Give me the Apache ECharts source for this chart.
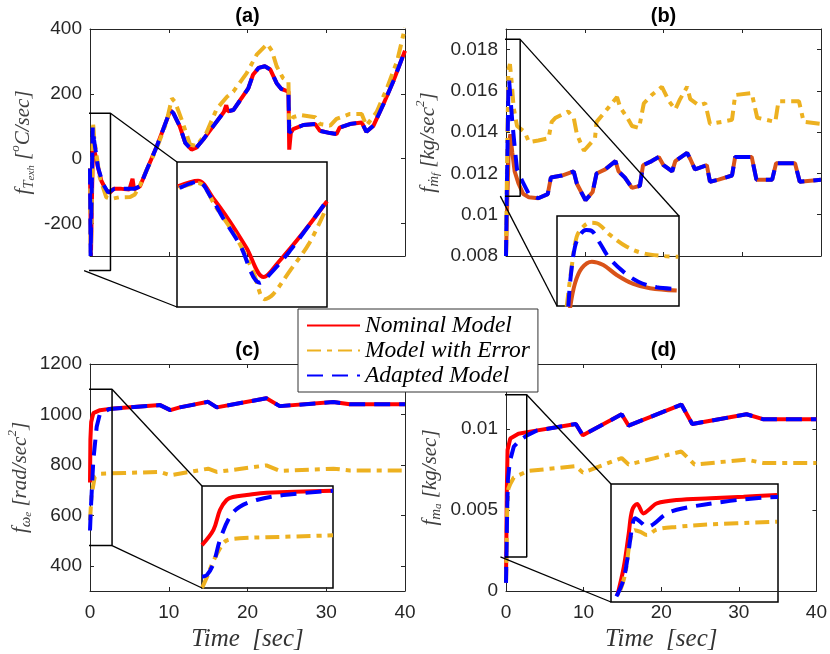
<!DOCTYPE html>
<html><head><meta charset="utf-8">
<script src="https://cdn.jsdelivr.net/npm/echarts@6/dist/echarts.min.js"></script>
<style>html,body{margin:0;padding:0;background:#fff}#c{width:830px;height:654px}</style>
</head><body><div id="c"></div>
<script>
// ---------- data ----------
const xRange = [0, 40];
const xTicks = [0, 10, 20, 30, 40];

const aYRange = [-300, 400];
const aYTicks = [-200, 0, 200, 400];
const aNominal = [[0,-30],[0.12,-300],[0.38,60],[0.6,20],[1.0,-25],[1.44,-68],[2.0,-95],[2.5,-105],[3.0,-93],[4.0,-93],[5.0,-95],[5.4,-62],[5.6,-95],[6.35,-85],[7.2,-35],[8.5,39],[9.3,91],[10.2,149],[10.6,140],[11.4,100],[12.1,49],[12.9,28],[13.5,34],[14.4,60],[15.7,102],[17.0,144],[17.3,165],[17.5,146],[18.2,150],[19.0,178],[20.1,217],[20.7,259],[21.4,280],[22.2,285],[22.9,275],[23.7,233],[24.3,215],[25.2,207],[25.3,28],[25.5,80],[25.8,91],[27.1,104],[28.6,107],[29.2,86],[30.5,79],[31.3,76],[31.7,96],[33.0,107],[34.5,112],[35.1,83],[36.0,102],[37.2,165],[38.5,238],[40,333]];
const aError = [[0,-30],[0.1,-290],[0.2,-200],[0.38,112],[0.55,60],[1.23,-57],[2.07,-119],[2.7,-124],[3.7,-119],[5.1,-118],[5.7,-110],[6.35,-82],[7.2,-35],[8.5,34],[9.7,112],[10.4,186],[10.8,175],[11.6,123],[12.7,44],[13.5,39],[14.8,81],[16.1,154],[17.4,191],[18.2,207],[19.9,264],[21.2,322],[22.5,354],[23.1,333],[23.7,285],[24.5,249],[25.2,238],[25.3,102],[25.8,128],[26.7,135],[28.6,128],[29.2,107],[30.5,102],[31.3,123],[33.0,138],[34.5,138],[35.1,102],[36.4,144],[37.7,217],[39.0,301],[40,404]];
const aAdapted = [[0,-30],[0.08,-300],[0.2,-300],[0.35,96],[0.5,60],[1.02,-27],[1.65,-78],[2.3,-104],[3.1,-93],[4.0,-92],[5.0,-93],[5.6,-93],[6.35,-85],[7.2,-35],[8.5,39],[9.3,91],[10.2,150],[10.6,140],[11.4,100],[12.1,49],[12.9,28],[13.5,34],[14.4,60],[15.7,102],[17.0,144],[18.2,150],[19.0,178],[20.1,217],[20.7,259],[21.4,280],[22.2,285],[22.9,275],[23.7,233],[24.3,215],[25.2,207],[25.3,80],[25.8,91],[27.1,104],[28.6,107],[29.2,86],[30.5,79],[31.3,76],[31.7,96],[33.0,107],[34.5,112],[35.1,83],[36.0,102],[37.2,165],[38.5,238],[40,333]];
const aZoomX = [-0.75, 2.6];
const aZoomY = [-345, 140];
const aInNominal = [[-0.73,58.6],[-0.28,77.6],[0.054,19.9],[0.427,-58.2],[0.80,-146.9],[1.186,-245],[1.505,-197],[2.064,-96.9],[2.6,8.6]];
const aInError = [[-0.71,54],[-0.28,70],[0.13,-13.5],[0.576,-113.5],[0.947,-225],[1.21,-319],[1.394,-302.7],[1.767,-225],[2.21,-130],[2.586,-13.5]];
const aInAdapted = [[-0.69,53.3],[-0.28,74.3],[0.018,19.9],[0.277,-46.8],[0.65,-135.9],[1.10,-263.7],[1.32,-236],[1.767,-158.2],[2.586,8.6]];

const bYRange = [0.008, 0.019];
const bYTicks = [0.008, 0.01, 0.012, 0.014, 0.016, 0.018];
const bNominal = [[0,0.008],[0.15,0.0105],[0.35,0.0133],[0.55,0.0139],[0.8,0.0130],[1.1,0.0121],[1.6,0.0115],[2.2,0.0110],[2.9,0.01085],[4.1,0.0108],[5.3,0.0110],[5.7,0.0118],[7.1,0.0119],[8.6,0.0121],[9.0,0.0115],[10.1,0.0107],[11.0,0.0111],[11.5,0.0120],[12.6,0.0122],[13.9,0.0126],[14.3,0.0121],[15.1,0.0118],[16.0,0.0113],[17.0,0.0114],[17.4,0.0124],[18.5,0.0126],[19.4,0.0128],[20.0,0.0124],[21.1,0.0121],[21.5,0.0126],[23.0,0.0130],[23.4,0.0127],[24.0,0.0122],[25.5,0.0124],[25.9,0.0116],[27.0,0.0117],[28.7,0.0119],[29.1,0.0128],[31.2,0.0128],[31.8,0.0117],[33.8,0.0117],[34.3,0.0125],[36.7,0.0125],[37.3,0.0116],[40,0.0117]];
const bError = [[0,0.008],[0.12,0.012],[0.3,0.0170],[0.5,0.0173],[0.7,0.0165],[0.97,0.0152],[1.4,0.0143],[2.4,0.0140],[2.9,0.01352],[4.1,0.0136],[5.4,0.0137],[5.8,0.0145],[6.3,0.0147],[7.9,0.0150],[8.6,0.0147],[9.0,0.0139],[9.9,0.0131],[11.3,0.0137],[11.5,0.0145],[12.6,0.0150],[14.1,0.0157],[14.5,0.0152],[15.4,0.0147],[16.0,0.0143],[16.9,0.0142],[17.5,0.0154],[18.5,0.0158],[19.8,0.0162],[20.7,0.0155],[21.5,0.0151],[22.1,0.0156],[23.0,0.0162],[23.4,0.0156],[24.5,0.0153],[25.3,0.0154],[25.9,0.0144],[27.4,0.0145],[28.7,0.0146],[29.1,0.0158],[31.2,0.0159],[31.9,0.0147],[34.2,0.0145],[34.6,0.0155],[37.2,0.0155],[37.8,0.0145],[40,0.0144]];
const bAdapted = [[0,0.008],[0.12,0.0115],[0.3,0.0160],[0.4,0.0165],[0.6,0.0155],[0.8,0.0145],[1.1,0.0133],[1.4,0.0122],[2.1,0.0116],[2.9,0.0110],[4.1,0.0108],[5.3,0.0110],[5.7,0.0118],[7.1,0.0119],[8.6,0.0121],[9.0,0.0115],[10.1,0.0107],[11.0,0.0111],[11.5,0.0120],[12.6,0.0122],[13.9,0.0126],[14.3,0.0121],[15.1,0.0118],[16.0,0.0113],[17.0,0.0114],[17.4,0.0124],[18.5,0.0126],[19.4,0.0128],[20.0,0.0124],[21.1,0.0121],[21.5,0.0126],[23.0,0.0130],[23.4,0.0127],[24.0,0.0122],[25.5,0.0124],[25.9,0.0116],[27.0,0.0117],[28.7,0.0119],[29.1,0.0128],[31.2,0.0128],[31.8,0.0117],[33.8,0.0117],[34.3,0.0125],[36.7,0.0125],[37.3,0.0116],[40,0.0117]];
const bZoomX = [-0.72, 1.8];
const bZoomY = [0.0109, 0.0185];
const bInNominal = [[-0.451,0.01071],[-0.348,0.01282],[-0.21,0.01409],[0.0,0.01464],[0.236,0.01436],[0.513,0.01352],[0.856,0.01276],[1.20,0.01240],[1.753,0.01220]];
const bInError = [[-0.52,0.01084],[-0.416,0.01422],[-0.313,0.01675],[-0.177,0.01760],[-0.038,0.01793],[0.100,0.01788],[0.375,0.01690],[0.72,0.01591],[1.063,0.01535],[1.476,0.01512],[1.786,0.01506]];
const bInAdapted = [[-0.487,0.01084],[-0.437,0.01338],[-0.348,0.01591],[-0.245,0.01690],[-0.12,0.01732],[0.003,0.01723],[0.168,0.01620],[0.34,0.01506],[0.65,0.01380],[0.96,0.01295],[1.34,0.01248],[1.753,0.01234]];

const cYRange = [300, 1200];
const cYTicks = [400, 600, 800, 1000, 1200];
const cNominal = [[0,730],[0.05,900],[0.15,970],[0.42,1005],[1.27,1017],[2.96,1024],[8.9,1037],[10.2,1017],[11.4,1028],[15.0,1050],[16.1,1028],[22.4,1064],[24.1,1033],[30.9,1049],[33.0,1040],[40,1040]];
const cError = [[0,580],[0.2,680],[0.6,752],[1.27,765],[4.4,768],[8.9,772],[10.2,759],[15.0,785],[16.1,772],[22.4,798],[24.1,776],[30.9,785],[33.0,778],[40,778]];
const cAdapted = [[0,540],[0.1,620],[0.42,818],[0.85,951],[1.27,1004],[2.5,1022],[8.9,1037],[10.2,1017],[11.4,1028],[15.0,1050],[16.1,1028],[22.4,1064],[24.1,1033],[30.9,1049],[33.0,1040],[40,1040]];
const cZoomX = [-0.63, 2.8];
const cZoomY = [480, 1100];
const cInNominal = [[-0.63,741],[-0.33,833],[-0.16,954],[0.014,1015],[0.18,1033],[0.54,1045],[1.06,1059],[2.8,1071]];
const cInError = [[-0.63,480],[-0.5,547],[-0.36,629],[-0.16,721],[0.01,768],[0.36,782],[1.06,788],[2.8,800]];
const cInAdapted = [[-0.63,549],[-0.5,559],[-0.33,629],[-0.16,772],[0.10,913],[0.36,974],[0.80,1015],[1.5,1045],[2.8,1071]];

const dYRange = [0, 0.014];
const dYTicks = [0, 0.005, 0.01];
const dNominal = [[0,0.0005],[0.1,0.006],[0.2,0.0087],[0.55,0.0094],[1.6,0.0097],[2.7,0.0098],[9.0,0.0103],[9.9,0.0096],[14.9,0.0109],[15.8,0.0102],[22.6,0.0115],[24.0,0.0103],[31.0,0.0109],[33.1,0.0106],[40,0.0106]];
const dError = [[0,0.0005],[0.15,0.005],[0.3,0.0063],[0.55,0.0066],[1.0,0.0070],[2.8,0.0074],[9.0,0.0077],[9.9,0.0073],[14.9,0.0082],[15.8,0.0078],[22.6,0.0086],[24.3,0.0078],[31.0,0.0081],[33.1,0.0079],[40,0.0079]];
const dAdapted = [[0,0.0005],[0.15,0.005],[0.25,0.0069],[0.5,0.0080],[1.0,0.0089],[1.8,0.0093],[2.7,0.0096],[4.0,0.0099],[9.0,0.0103],[9.9,0.0096],[14.9,0.0109],[15.8,0.0102],[22.6,0.0115],[24.0,0.0103],[31.0,0.0109],[33.1,0.0106],[40,0.0106]];
const dZoomX = [-0.72, 2.67];
const dZoomY = [0.0021, 0.0121];
const dInNominal = [[-0.59,0.00267],[-0.46,0.00507],[-0.36,0.00791],[-0.29,0.00989],[-0.19,0.0104],[-0.06,0.00961],[0.08,0.01004],[0.21,0.01046],[0.62,0.01074],[1.3,0.01089],[1.97,0.01102],[2.65,0.01117]];
const dInError = [[-0.53,0.0031],[-0.43,0.00451],[-0.33,0.00734],[-0.24,0.00819],[-0.12,0.00805],[0.01,0.00777],[0.21,0.00825],[0.62,0.00847],[1.3,0.00868],[2.65,0.0089]];
const dInAdapted = [[-0.61,0.00258],[-0.47,0.00394],[-0.37,0.00621],[-0.30,0.00819],[-0.23,0.00919],[-0.09,0.00876],[0.0,0.00847],[0.42,0.00961],[0.75,0.01004],[1.57,0.0106],[2.35,0.01094],[2.67,0.0110]];

const seriesNames = ['Nominal Model', 'Model with Error', 'Adapted Model'];
const panelTitles = ['(a)', '(b)', '(c)', '(d)'];

// ---------- layout & style ----------
const AX = '#262626';
const RED = '#FF0000', ORANGE = '#D95319', YEL = '#EDB120', BLUE = '#0000FF';
const serifIt = {fontFamily: 'Liberation Serif', fontStyle: 'italic'};
const richName = {
  f: Object.assign({fontSize: 21, lineHeight: 28}, serifIt),
  b: Object.assign({fontSize: 21, lineHeight: 28}, serifIt),
  s: Object.assign({fontSize: 15, lineHeight: 15, verticalAlign: 'bottom'}, serifIt),
  ss: Object.assign({fontSize: 11, lineHeight: 9, verticalAlign: 'bottom'}, serifIt),
  sup: Object.assign({fontSize: 13, lineHeight: 13, verticalAlign: 'top'}, serifIt)
};

const panels = [
  {grid: {left: 90, top: 29}, yr: aYRange, yTicks: aYTicks, data: [aNominal, aError, aAdapted], nom: RED,
   zx: aZoomX, zy: aZoomY, inset: {left: 177, top: 162, width: 150, height: 145}, inData: [aInNominal, aInError, aInAdapted],
   links: [['tr', 'tl'], ['bl', 'bl']], xLabels: false, nameGap: 53, titleTop: 6,
   yName: '{f|f}{s|T}{ss|exh} {b|[}{sup|o}{b|C/sec]}'},
  {grid: {left: 506, top: 29}, yr: bYRange, yTicks: bYTicks, data: [bNominal, bError, bAdapted], nom: ORANGE,
   zx: bZoomX, zy: bZoomY, inset: {left: 557, top: 216, width: 122, height: 90}, inData: [bInNominal, bInError, bInAdapted],
   links: [['tr', 'tr'], ['bl', 'bl']], xLabels: false, nameGap: 64, titleTop: 6,
   yName: '{f|f}{s|ṁ}{ss|f} {b|[kg/sec}{sup|2}{b|]}'},
  {grid: {left: 90, top: 364}, yr: cYRange, yTicks: cYTicks, data: [cNominal, cError, cAdapted], nom: RED,
   zx: cZoomX, zy: cZoomY, inset: {left: 202, top: 486, width: 131, height: 102}, inData: [cInNominal, cInError, cInAdapted],
   links: [['tr', 'tl'], ['br', 'bl']], xLabels: true, nameGap: 56, titleTop: 340,
   yName: '{f|f}{s|ω}{ss|e} {b|[rad/sec}{sup|2}{b|]}'},
  {grid: {left: 506, top: 364}, yr: dYRange, yTicks: dYTicks, data: [dNominal, dError, dAdapted], nom: RED,
   zx: dZoomX, zy: dZoomY, inset: {left: 611, top: 484, width: 167, height: 118}, inData: [dInNominal, dInError, dInAdapted],
   links: [['tr', 'tl'], ['bl', 'bl']], xLabels: true, nameGap: 62, titleTop: 340,
   yName: '{f|f}{s|m}{ss|a} {b|[kg/sec]}'}
];

function lineStyles(nom) {
  return [
    {color: nom, width: 4, type: 'solid', cap: 'butt'},
    {color: YEL, width: 4, type: [14, 6, 5, 6], cap: 'butt'},
    {color: BLUE, width: 4, type: [16, 9], cap: 'butt'}
  ];
}

const grids = [], xAxes = [], yAxes = [], series = [], titles = [];
const tickLbl = {fontFamily: 'Liberation Sans', fontSize: 19, color: AX, formatter: (v) => String(v)};

panels.forEach((p, i) => {
  grids[i] = {left: p.grid.left, top: p.grid.top, width: 315, height: 227, containLabel: false};
  grids[4 + i] = Object.assign({show: true, borderColor: '#000', borderWidth: 1.5, backgroundColor: 'transparent'}, p.inset);
  titles.push({text: panelTitles[i], left: p.grid.left + 157.5, top: p.titleTop, textAlign: 'center', padding: 0,
    textStyle: {fontFamily: 'Liberation Sans', fontWeight: 'bold', fontSize: 20, color: '#000'}});
  const tick = (vals) => ({show: true, inside: true, length: 4, customValues: vals, lineStyle: {color: AX, width: 1}});
  const line = {show: true, onZero: false, lineStyle: {color: AX, width: 1}};
  xAxes[2 * i] = {type: 'value', gridIndex: i, position: 'bottom', min: xRange[0], max: xRange[1],
    axisLine: line, axisTick: tick(xTicks), splitLine: {show: false},
    axisLabel: Object.assign({show: p.xLabels, customValues: xTicks, margin: 12}, tickLbl),
    name: p.xLabels ? 'Time\u2002[sec]' : '', nameLocation: 'middle', nameGap: 36,
    nameTextStyle: Object.assign({fontSize: 25, lineHeight: 25, color: '#333'}, serifIt)};
  xAxes[2 * i + 1] = {type: 'value', gridIndex: i, position: 'top', min: xRange[0], max: xRange[1],
    axisLine: line, axisTick: tick(xTicks), axisLabel: {show: false}, splitLine: {show: false}};
  yAxes[2 * i] = {type: 'value', gridIndex: i, position: 'left', min: p.yr[0], max: p.yr[1],
    axisLine: line, axisTick: tick(p.yTicks), splitLine: {show: false},
    axisLabel: Object.assign({show: true, customValues: p.yTicks, margin: 8}, tickLbl),
    name: p.yName, nameLocation: 'middle', nameRotate: 90, nameGap: p.nameGap,
    nameTextStyle: Object.assign({fontSize: 21, lineHeight: 28, color: '#404040', rich: richName}, serifIt)};
  yAxes[2 * i + 1] = {type: 'value', gridIndex: i, position: 'right', min: p.yr[0], max: p.yr[1],
    axisLine: line, axisTick: tick(p.yTicks), axisLabel: {show: false}, splitLine: {show: false}};
  xAxes[8 + i] = {type: 'value', gridIndex: 4 + i, min: p.zx[0], max: p.zx[1], show: false};
  yAxes[8 + i] = {type: 'value', gridIndex: 4 + i, min: p.zy[0], max: p.zy[1], show: false};
});

panels.forEach((p, i) => {
  const ls = lineStyles(p.nom);
  for (let k = 0; k < 3; k++) {
    series.push({type: 'line', name: seriesNames[k], xAxisIndex: 2 * i, yAxisIndex: 2 * i, data: p.data[k],
      symbol: 'none', showSymbol: false, lineStyle: ls[k], itemStyle: {color: ls[k].color}, z: 2 + k, silent: true});
  }
  const r = [[p.zx[0], p.zy[0]], [p.zx[1], p.zy[0]], [p.zx[1], p.zy[1]], [p.zx[0], p.zy[1]], [p.zx[0], p.zy[0]]];
  series.push({type: 'line', name: 'zoom', xAxisIndex: 2 * i, yAxisIndex: 2 * i, data: r, clip: false,
    symbol: 'none', lineStyle: {color: '#000', width: 1.5}, itemStyle: {color: '#000'}, z: 6, silent: true});
  for (let k = 0; k < 3; k++) {
    series.push({type: 'line', name: seriesNames[k], xAxisIndex: 8 + i, yAxisIndex: 8 + i, data: p.inData[k],
      symbol: 'none', showSymbol: false, smooth: 0.35, lineStyle: ls[k], itemStyle: {color: ls[k].color}, z: 2 + k, silent: true});
  }
});

const option = {
  animation: false,
  backgroundColor: '#fff',
  title: titles,
  grid: grids,
  xAxis: xAxes,
  yAxis: yAxes,
  legend: {data: seriesNames, orient: 'vertical', left: 298, top: 309, padding: [5, 8, 5, 8], itemGap: 2,
    itemWidth: 53, itemHeight: 12, backgroundColor: '#fff', borderColor: '#333', borderWidth: 1, borderRadius: 0,
    z: 20, selectedMode: false, itemStyle: {opacity: 0},
    textStyle: Object.assign({fontSize: 23.5, color: '#000'}, serifIt)},
  series: series
};

const chart = echarts.init(document.getElementById('c'), null, {renderer: 'canvas'});
chart.setOption(option);

// connector lines between zoom rectangles and insets
const graphics = [];
panels.forEach((p, i) => {
  const corner = (c) => [c[1] === 'l' ? p.zx[0] : p.zx[1], c[0] === 't' ? p.zy[1] : p.zy[0]];
  p.links.forEach(([from, to]) => {
    const a = chart.convertToPixel({seriesIndex: 7 * i}, corner(from));
    const b = chart.convertToPixel({seriesIndex: 7 * i + 4}, corner(to));
    graphics.push({type: 'line', silent: true, z: 15,
      shape: {x1: a[0], y1: a[1], x2: b[0], y2: b[1]}, style: {stroke: '#000', lineWidth: 1.3}});
  });
});
chart.setOption({graphic: graphics});
</script>
</body></html>
